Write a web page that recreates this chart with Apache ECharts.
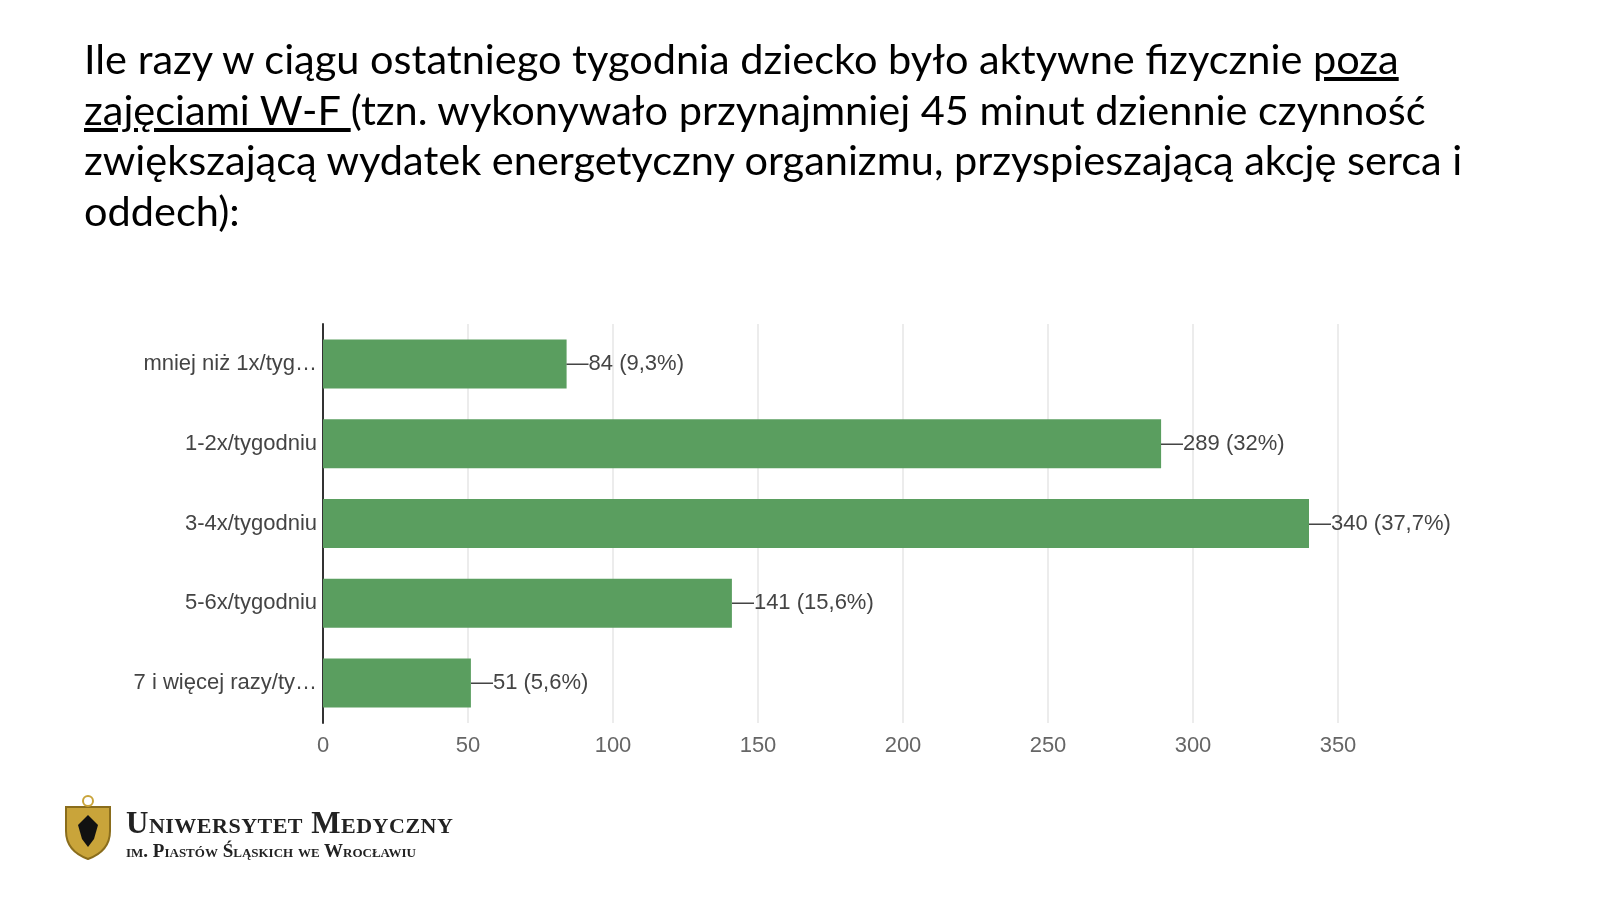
<!DOCTYPE html>
<html><head><meta charset="utf-8">
<script src="https://cdn.jsdelivr.net/npm/echarts@6/dist/echarts.min.js"></script>
<style>
body{margin:0;width:1600px;height:900px;background:#fff;position:relative;overflow:hidden}
#title{position:absolute;left:84px;top:33px;width:1500px;font-family:Lato,"Noto Sans",sans-serif;font-size:41.5px;line-height:50.5px;color:#000;white-space:nowrap}
#main{position:absolute;left:0;top:0;width:1600px;height:900px}
#logo{position:absolute;left:62px;top:795px;width:52px;height:66px}
#uni{position:absolute;left:126px;top:806px;font-family:"Liberation Serif","DejaVu Serif",serif;font-weight:bold;color:#222}
#uni .a{font-size:31px;font-variant:small-caps;letter-spacing:0.5px;line-height:34px}
#uni .b{font-size:19px;font-variant:small-caps;line-height:22px}
</style></head><body>
<div id="main"></div>
<div id="title">Ile razy w ciągu ostatniego tygodnia dziecko było aktywne fizycznie <u>poza</u><br><u>zajęciami W-F </u>(tzn. wykonywało przynajmniej 45 minut dziennie czynność<br>zwiększającą wydatek energetyczny organizmu, przyspieszającą akcję serca i<br>oddech):</div>
<svg id="logo" viewBox="0 0 52 66"><path d="M4 12 H48 V36 Q48 56 26 64 Q4 56 4 36 Z" fill="#c9a43a" stroke="#8a6d1c" stroke-width="2"/><circle cx="26" cy="6" r="5" fill="none" stroke="#c9a43a" stroke-width="2"/><path d="M26 20 L16 30 L20 44 L26 52 L32 44 L36 30 Z" fill="#111"/></svg>
<div id="uni"><div class="a">Uniwersytet Medyczny</div><div class="b">im. Piastów Śląskich we Wrocławiu</div></div>
<script>
var categories = ['mniej niż 1x/tyg…','1-2x/tygodniu','3-4x/tygodniu','5-6x/tygodniu','7 i więcej razy/ty…'];
var counts = [84, 289, 340, 141, 51];
var percents = ['9,3%','32%','37,7%','15,6%','5,6%'];

var myChart = echarts.init(document.getElementById('main'));
var option = {
    animation: false,
    grid: {left: 323, right: 262, top: 324, bottom: 177},
    xAxis: {
        type: 'value', min: 0, max: 350, interval: 50,
        axisLine: {show: false}, axisTick: {show: false},
        splitLine: {lineStyle: {color: '#e6e6e6', width: 1.5}},
        axisLabel: {color: '#666', fontSize: 22, fontFamily: 'Arial', margin: 12}
    },
    yAxis: {
        type: 'category', inverse: true, data: categories,
        axisLine: {show: true, lineStyle: {color: '#333', width: 2}},
        axisTick: {show: false},
        axisLabel: {color: '#444', fontSize: 22, fontFamily: 'Arial', margin: 6}
    },
    series: [{
        type: 'bar', data: counts, barWidth: 49,
        itemStyle: {color: '#5a9e5f'},
        label: {
            show: true, position: 'right', distance: 0,
            color: '#444', fontSize: 22, fontFamily: 'Arial',
            formatter: function (p) { return '\u2014' + p.value + ' (' + percents[p.dataIndex] + ')'; }
        }
    }]
};
myChart.setOption(option);
window.onresize = myChart.resize;
</script>
</body></html>
